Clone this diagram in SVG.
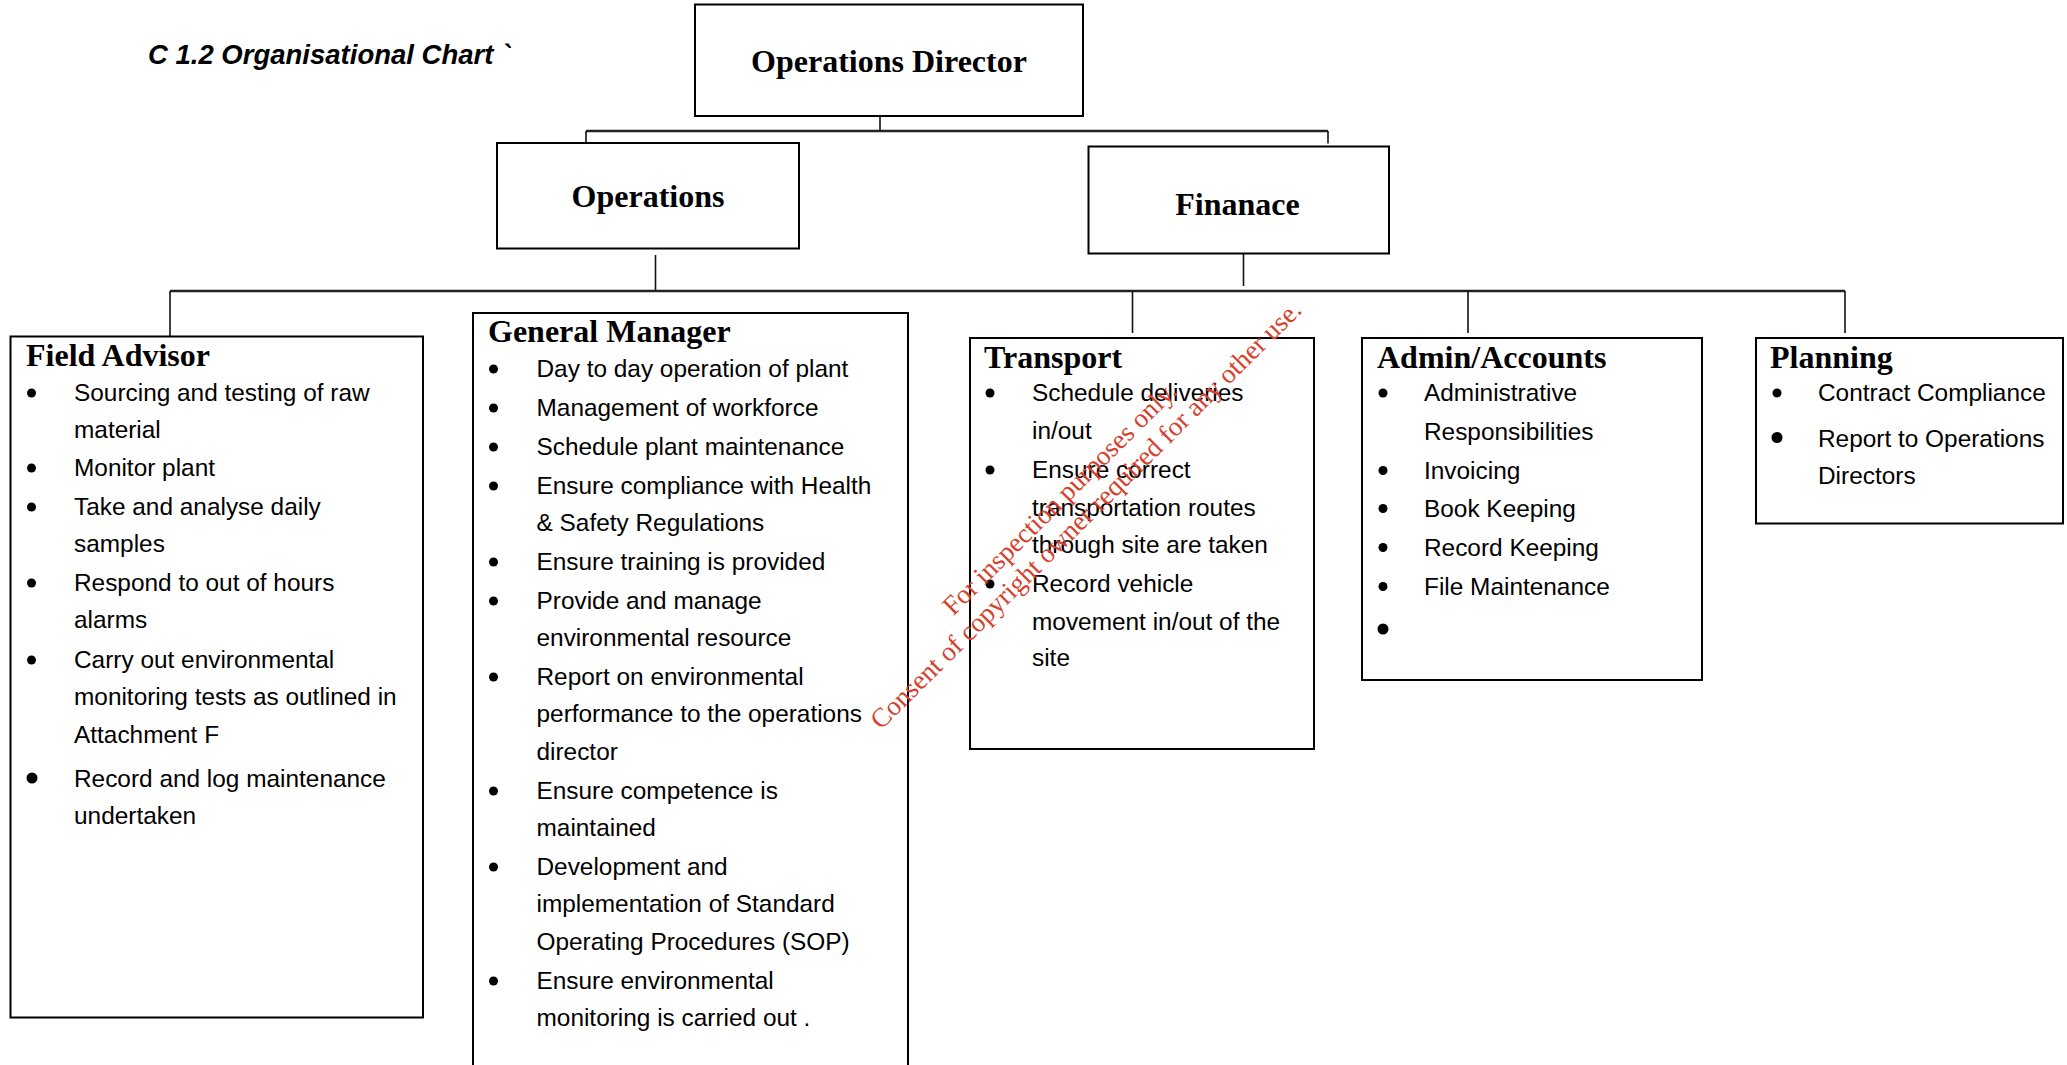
<svg xmlns="http://www.w3.org/2000/svg" width="2067" height="1065" viewBox="0 0 2067 1065">
  <style>
    .box { fill: #ffffff; stroke: #000000; stroke-width: 2; }
    .link { fill: none; stroke: #111111; stroke-width: 1.6; }
    .bar { fill: none; stroke: #222222; stroke-width: 2.4; }
    .title { font-family: "Liberation Sans", Arial, sans-serif; font-weight: bold; font-style: italic; font-size: 27.5px; fill: #000; }
    .head { font-family: "Liberation Serif", "Times New Roman", serif; font-weight: bold; font-size: 32px; fill: #000; }
    .item { font-family: "Liberation Sans", Arial, sans-serif; font-size: 24.4px; fill: #000; }
    .dot { fill: #000; }
    .mark { font-family: "Liberation Serif", "Times New Roman", serif; font-size: 27px; fill: #d6402c; text-anchor: middle; }
  </style>

  <rect width="2067" height="1065" fill="#ffffff"/>

  <text class="title" x="148" y="64">C 1.2 Organisational Chart `</text>

  <!-- connectors -->
  <g id="connectors">
    <line class="link" x1="880" y1="116" x2="880" y2="131"/>
    <line class="bar" x1="586" y1="131" x2="1328" y2="131"/>
    <line class="link" x1="586" y1="131" x2="586" y2="143"/>
    <line class="link" x1="1328" y1="131" x2="1328" y2="143.5"/>
    <line class="link" x1="655.5" y1="255" x2="655.5" y2="291"/>
    <line class="link" x1="1243.5" y1="252" x2="1243.5" y2="286"/>
    <line class="bar" x1="170" y1="291" x2="1845" y2="291"/>
    <line class="link" x1="170" y1="291" x2="170" y2="336.5"/>
    <line class="link" x1="1132.5" y1="291" x2="1132.5" y2="333"/>
    <line class="link" x1="1468" y1="291" x2="1468" y2="333"/>
    <line class="link" x1="1845" y1="291" x2="1845" y2="333"/>
  </g>

  <!-- top level -->
  <g id="operations-director">
    <rect class="box" x="695" y="4.5" width="388" height="111.5"/>
    <text class="head" x="889" y="72" text-anchor="middle">Operations Director</text>
  </g>

  <g id="operations">
    <rect class="box" x="497" y="143" width="302" height="105.5"/>
    <text class="head" x="648" y="207" text-anchor="middle">Operations</text>
  </g>

  <g id="finance">
    <rect class="box" x="1088.5" y="146.5" width="300.5" height="107"/>
    <text class="head" x="1237.5" y="215" text-anchor="middle">Finanace</text>
  </g>

  <!-- departments -->
  <g id="field-advisor">
    <rect class="box" x="10.5" y="336.5" width="412.5" height="681"/>
    <text class="head" x="26" y="366">Field Advisor</text>
    <circle class="dot" cx="31.5" cy="393" r="4.5"/>
    <circle class="dot" cx="31.5" cy="468" r="4.5"/>
    <circle class="dot" cx="31.5" cy="507" r="4.5"/>
    <circle class="dot" cx="31.5" cy="583" r="4.5"/>
    <circle class="dot" cx="31.5" cy="660" r="4.5"/>
    <circle class="dot" cx="32" cy="778" r="5.5"/>
    <text class="item" x="74" y="401">Sourcing and testing of raw</text>
    <text class="item" x="74" y="438">material</text>
    <text class="item" x="74" y="476">Monitor plant</text>
    <text class="item" x="74" y="515">Take and analyse daily</text>
    <text class="item" x="74" y="552">samples</text>
    <text class="item" x="74" y="591">Respond to out of hours</text>
    <text class="item" x="74" y="628">alarms</text>
    <text class="item" x="74" y="668">Carry out environmental</text>
    <text class="item" x="74" y="705">monitoring tests as outlined in</text>
    <text class="item" x="74" y="743">Attachment F</text>
    <text class="item" x="74" y="787">Record and log maintenance</text>
    <text class="item" x="74" y="824">undertaken</text>
  </g>

  <g id="general-manager">
    <rect class="box" x="473" y="313" width="435" height="770"/>
    <text class="head" x="488" y="342">General Manager</text>
    <circle class="dot" cx="493.5" cy="369" r="4.5"/>
    <circle class="dot" cx="493.5" cy="408" r="4.5"/>
    <circle class="dot" cx="493.5" cy="447" r="4.5"/>
    <circle class="dot" cx="493.5" cy="486" r="4.5"/>
    <circle class="dot" cx="493.5" cy="562" r="4.5"/>
    <circle class="dot" cx="493.5" cy="601" r="4.5"/>
    <circle class="dot" cx="493.5" cy="677" r="4.5"/>
    <circle class="dot" cx="493.5" cy="791" r="4.5"/>
    <circle class="dot" cx="493.5" cy="867" r="4.5"/>
    <circle class="dot" cx="493.5" cy="981" r="4.5"/>
    <text class="item" x="536.5" y="377">Day to day operation of plant</text>
    <text class="item" x="536.5" y="416">Management of workforce</text>
    <text class="item" x="536.5" y="455">Schedule plant maintenance</text>
    <text class="item" x="536.5" y="494">Ensure compliance with Health</text>
    <text class="item" x="536.5" y="531">&amp; Safety Regulations</text>
    <text class="item" x="536.5" y="570">Ensure training is provided</text>
    <text class="item" x="536.5" y="609">Provide and manage</text>
    <text class="item" x="536.5" y="646">environmental resource</text>
    <text class="item" x="536.5" y="685">Report on environmental</text>
    <text class="item" x="536.5" y="722">performance to the operations</text>
    <text class="item" x="536.5" y="760">director</text>
    <text class="item" x="536.5" y="799">Ensure competence is</text>
    <text class="item" x="536.5" y="836">maintained</text>
    <text class="item" x="536.5" y="875">Development and</text>
    <text class="item" x="536.5" y="912">implementation of Standard</text>
    <text class="item" x="536.5" y="950">Operating Procedures (SOP)</text>
    <text class="item" x="536.5" y="989">Ensure environmental</text>
    <text class="item" x="536.5" y="1026">monitoring is carried out .</text>
  </g>

  <g id="transport">
    <rect class="box" x="970" y="338" width="344" height="411"/>
    <text class="head" x="984" y="368">Transport</text>
    <circle class="dot" cx="990" cy="393" r="4.5"/>
    <circle class="dot" cx="990" cy="470" r="4.5"/>
    <circle class="dot" cx="990" cy="584" r="4.5"/>
    <text class="item" x="1032" y="401">Schedule deliveries</text>
    <text class="item" x="1032" y="439">in/out</text>
    <text class="item" x="1032" y="478">Ensure correct</text>
    <text class="item" x="1032" y="516">transportation routes</text>
    <text class="item" x="1032" y="553">through site are taken</text>
    <text class="item" x="1032" y="592">Record vehicle</text>
    <text class="item" x="1032" y="630">movement in/out of the</text>
    <text class="item" x="1032" y="666">site</text>
  </g>

  <g id="admin-accounts">
    <rect class="box" x="1362" y="338" width="340" height="342"/>
    <text class="head" x="1377" y="368">Admin/Accounts</text>
    <circle class="dot" cx="1383" cy="393" r="4.5"/>
    <circle class="dot" cx="1383" cy="470.5" r="4.5"/>
    <circle class="dot" cx="1383" cy="508.5" r="4.5"/>
    <circle class="dot" cx="1383" cy="547.5" r="4.5"/>
    <circle class="dot" cx="1383" cy="586.5" r="4.5"/>
    <circle class="dot" cx="1383" cy="629" r="5.5"/>
    <text class="item" x="1424" y="401">Administrative</text>
    <text class="item" x="1424" y="439.5">Responsibilities</text>
    <text class="item" x="1424" y="478.5">Invoicing</text>
    <text class="item" x="1424" y="516.5">Book Keeping</text>
    <text class="item" x="1424" y="555.5">Record Keeping</text>
    <text class="item" x="1424" y="594.5">File Maintenance</text>
  </g>

  <g id="planning">
    <rect class="box" x="1756" y="338" width="307" height="185.5"/>
    <text class="head" x="1770" y="368">Planning</text>
    <circle class="dot" cx="1777" cy="393" r="4.5"/>
    <circle class="dot" cx="1777" cy="437.5" r="5.5"/>
    <text class="item" x="1818" y="401">Contract Compliance</text>
    <text class="item" x="1818" y="446.5">Report to Operations</text>
    <text class="item" x="1818" y="483.5">Directors</text>
  </g>

  <!-- diagonal copyright stamp -->
  <g transform="translate(1092,521) rotate(-44.8)">
    <text class="mark" x="-7" y="-30">For inspection purposes only.</text>
    <text class="mark" x="0" y="0">Consent of copyright owner required for any other use.</text>
  </g>
</svg>
